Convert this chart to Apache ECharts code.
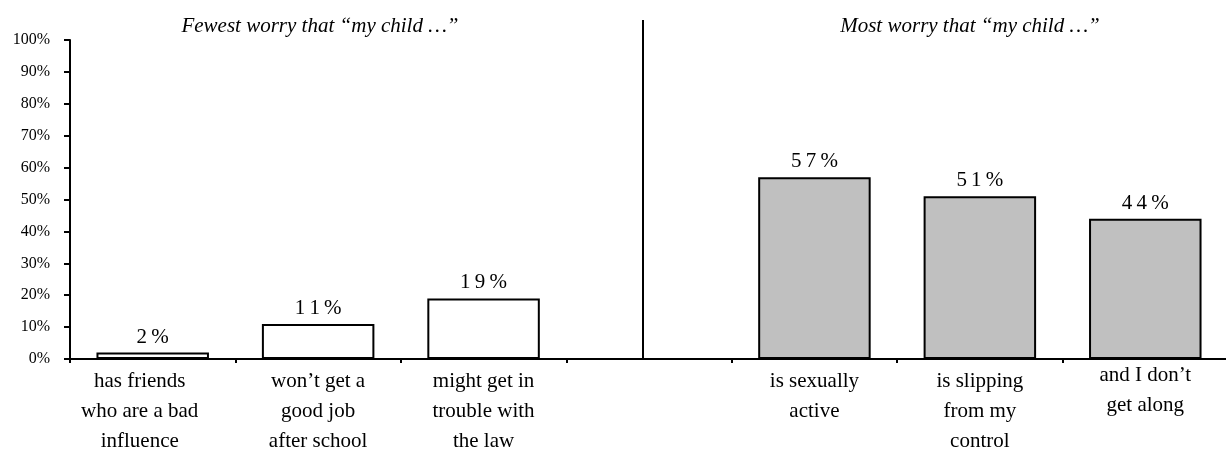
<!DOCTYPE html>
<html>
<head>
<meta charset="utf-8">
<script src="https://cdn.jsdelivr.net/npm/echarts@6/dist/echarts.min.js"></script>
<style>
  html, body { margin: 0; padding: 0; background: #fff; }
  #chart { width: 1226px; height: 449px; }
</style>
</head>
<body>
<div id="chart"></div>
<script>
// Category slots along the shared x axis (the empty slot separates the two groups)
const categories = [
  'has friends\nwho are a bad\ninfluence',
  'won\u2019t get a\ngood job\nafter school',
  'might get in\ntrouble with\nthe law',
  '',
  'is sexually\nactive',
  'is slipping\nfrom my\ncontrol',
  'and I don\u2019t\nget along'
];
// Share of parents who worry, percent
const fewestValues = [2, 11, 19, '-', '-', '-', '-'];
const mostValues = ['-', '-', '-', '-', 57, 51, 44];
// Y axis range and step, percent
const yMin = 0;
const yMax = 100;
const yStep = 10;
const groupTitles = ['Fewest worry that \u201cmy child \u2026\u201d', 'Most worry that \u201cmy child \u2026\u201d'];

const serif = '"Liberation Serif", "DejaVu Serif", serif';
const chart = echarts.init(document.getElementById('chart'), null, { renderer: 'canvas' });

// value labels are set with a little tracking between characters
const spaced = (s) => String(s).split('').join('\u2009');

const labelStyle = {
  show: true,
  position: 'top',
  distance: 5,
  formatter: (p) => spaced(p.value + '%'),
  fontFamily: serif,
  fontSize: 21,
  color: '#000'
};

// per-label nudges: first label sits a bit left, last one a bit higher
const labelNudge = {
  0: { padding: [0, 26, 0, 0] },
  6: { padding: [-6, 0, 0, 0] }
};
const xData = categories.map((c, i) =>
  labelNudge[i] ? { value: c, textStyle: labelNudge[i] } : c
);

chart.setOption({
  animation: false,
  backgroundColor: '#fff',
  title: [
    { text: groupTitles[0], left: 315, top: 11, textAlign: 'center',
      textStyle: { fontFamily: serif, fontStyle: 'italic', fontWeight: 'normal', fontSize: 21, color: '#000' } },
    { text: groupTitles[1], left: 965, top: 11, textAlign: 'center',
      textStyle: { fontFamily: serif, fontStyle: 'italic', fontWeight: 'normal', fontSize: 21, color: '#000' } }
  ],
  grid: { left: 70, top: 40, width: 1158, height: 319, containLabel: false, outerBoundsMode: 'none' },
  xAxis: {
    type: 'category',
    data: xData,
    axisLine: { show: true, lineStyle: { color: '#000', width: 2 } },
    axisTick: { show: true, interval: 0, length: 4, lineStyle: { color: '#000', width: 2 } },
    axisLabel: {
      interval: 0,
      margin: 7,
      fontFamily: serif,
      fontSize: 21,
      lineHeight: 30,
      color: '#000'
    },
    splitLine: { show: false }
  },
  yAxis: {
    type: 'value',
    min: yMin,
    max: yMax,
    interval: yStep,
    axisLine: { show: true, lineStyle: { color: '#000', width: 2 } },
    axisTick: { show: true, length: 6, lineStyle: { color: '#000', width: 2 } },
    axisLabel: {
      formatter: '{value}%',
      margin: 20,
      fontFamily: serif,
      fontSize: 16,
      color: '#000'
    },
    splitLine: { show: false }
  },
  series: [
    {
      name: 'Fewest',
      type: 'bar',
      data: fewestValues,
      barWidth: '68%',
      barGap: '-100%',
      itemStyle: { color: '#ffffff', borderColor: '#000', borderWidth: 2 },
      label: labelStyle
    },
    {
      name: 'Most',
      type: 'bar',
      data: mostValues,
      barWidth: '68%',
      barGap: '-100%',
      itemStyle: { color: '#c0c0c0', borderColor: '#000', borderWidth: 2 },
      label: labelStyle
    }
  ],
  graphic: [
    // divider between the two groups
    { type: 'line', shape: { x1: 643, y1: 20, x2: 643, y2: 359 },
      style: { stroke: '#000', lineWidth: 2 }, silent: true }
  ]
});
</script>
</body>
</html>
